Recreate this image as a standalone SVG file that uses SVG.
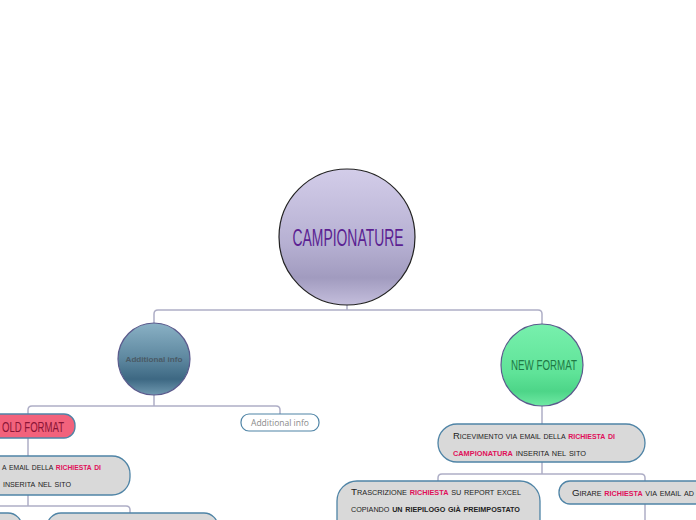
<svg xmlns="http://www.w3.org/2000/svg" width="696" height="520" viewBox="0 0 696 520">
<defs>
<linearGradient id="gMain" x1="0" y1="0" x2="0" y2="1">
<stop offset="0" stop-color="#d3cde9"/>
<stop offset="0.55" stop-color="#b6b0d2"/>
<stop offset="0.8" stop-color="#a19bbf"/>
<stop offset="1" stop-color="#c4bedc"/>
</linearGradient>
<linearGradient id="gBlue" x1="0" y1="0" x2="0" y2="1">
<stop offset="0" stop-color="#8ab1c5"/>
<stop offset="0.5" stop-color="#5d879f"/>
<stop offset="0.78" stop-color="#3d6883"/>
<stop offset="1" stop-color="#7099b0"/>
</linearGradient>
<linearGradient id="gGreen" x1="0" y1="0" x2="0" y2="1">
<stop offset="0" stop-color="#78f0ad"/>
<stop offset="0.6" stop-color="#5fe398"/>
<stop offset="0.82" stop-color="#4dd588"/>
<stop offset="1" stop-color="#70e9a4"/>
</linearGradient>
</defs>
<style>
.conn{fill:none;stroke:#aeaec6;stroke-width:1.5}
.box{fill:#d9d9d9;stroke:#4f84a6;stroke-width:1.3}
.t{font-family:"Liberation Sans",Arial,sans-serif;font-variant:small-caps;font-size:9.5px;fill:#222}
.hl{fill:#e0105a;font-weight:bold}
.b{font-weight:bold}
.title{font-family:"Liberation Sans",Arial,sans-serif;font-stretch:condensed}
</style>
<rect width="696" height="520" fill="#ffffff"/>
<g id="connectors">
<path class="conn" d="M347,305 V310 M154,324 V314 Q154,310 158,310 H538 Q542,310 542,314 V324"/>
<path class="conn" d="M154,395 V406 M28,414 V410 Q28,406 32,406 H276 Q280,406 280,410 V414"/>
<path class="conn" d="M28,438 V456"/>
<path class="conn" d="M28,495 V506 M-20,506 H126 Q130,506 130,510 V513"/>
<path class="conn" d="M542,406 V424"/>
<path class="conn" d="M542,462 V474 M438,481 V478 Q438,474 442,474 H641 Q645,474 645,478 V520"/>
</g>
<g id="n-campionature">
<circle cx="347" cy="237" r="68" fill="url(#gMain)" stroke="#222" stroke-width="1.2"/>
<text class="title" x="348" y="246" text-anchor="middle" font-size="24" fill="#5b1f92" textLength="111" lengthAdjust="spacingAndGlyphs">CAMPIONATURE</text>
</g>
<g id="n-additional-circle">
<circle cx="154" cy="359" r="36" fill="url(#gBlue)" stroke="#5a5a8c" stroke-width="1.2"/>
<text x="154" y="362" text-anchor="middle" font-family="Liberation Sans,Arial,sans-serif" font-size="8" font-weight="bold" fill="#4a5a66" textLength="57" lengthAdjust="spacingAndGlyphs">Additional info</text>
</g>
<g id="n-new-format">
<circle cx="542" cy="365" r="41" fill="url(#gGreen)" stroke="#5a5a8c" stroke-width="1.2"/>
<text class="title" x="544" y="370" text-anchor="middle" font-size="14" fill="#1f7a45" textLength="66" lengthAdjust="spacingAndGlyphs">NEW FORMAT</text>
</g>
<g id="n-old-format">
<rect x="-12" y="414" width="87" height="24" rx="11" fill="#f2627c" stroke="#4f84a6" stroke-width="1.3"/>
<text class="title" x="2" y="432" font-size="15" fill="#8a1436" textLength="62" lengthAdjust="spacingAndGlyphs">OLD FORMAT</text>
</g>
<g id="n-additional-box">
<rect x="241" y="414" width="78" height="17" rx="8" fill="#ffffff" stroke="#4f84a6" stroke-width="1.2"/>
<text x="280" y="426" text-anchor="middle" font-family="Open Sans,Liberation Sans,sans-serif" font-size="9" fill="#8a8a8a" textLength="58" lengthAdjust="spacingAndGlyphs">Additional info</text>
</g>
<g id="n-old-ricevimento">
<rect x="-80" y="456" width="210" height="39" rx="18" class="box"/>
<text class="t" x="2" y="470" textLength="99" lengthAdjust="spacingAndGlyphs">a email della <tspan class="hl">richiesta di</tspan></text>
<text class="t" x="3" y="487" textLength="68" lengthAdjust="spacingAndGlyphs">inserita nel sito</text>
</g>
<g id="n-old-child1">
<rect x="-80" y="513" width="102" height="30" rx="14" class="box"/>
</g>
<g id="n-old-child2">
<rect x="47" y="513" width="171" height="30" rx="14" class="box"/>
</g>
<g id="n-ricevimento">
<rect x="438" y="424" width="207" height="38" rx="19" class="box"/>
<text class="t" x="453" y="439" textLength="162" lengthAdjust="spacingAndGlyphs">Ricevimento via email della <tspan class="hl">richiesta di</tspan></text>
<text class="t" x="453" y="456" textLength="133" lengthAdjust="spacingAndGlyphs"><tspan class="hl">campionatura</tspan> inserita nel sito</text>
</g>
<g id="n-trascrizione">
<rect x="337" y="481" width="203" height="60" rx="20" class="box"/>
<text class="t" x="351" y="495" textLength="170" lengthAdjust="spacingAndGlyphs">Trascrizione <tspan class="hl">richiesta</tspan> su report excel</text>
<text class="t" x="351" y="512" textLength="169" lengthAdjust="spacingAndGlyphs">copiando <tspan class="b">un riepilogo già preimpostato</tspan></text>
</g>
<g id="n-girare">
<rect x="559" y="481" width="180" height="23" rx="11" class="box"/>
<text class="t" x="572" y="496" textLength="122" lengthAdjust="spacingAndGlyphs">Girare <tspan class="hl">richiesta</tspan> via email ad</text>
</g>
</svg>
